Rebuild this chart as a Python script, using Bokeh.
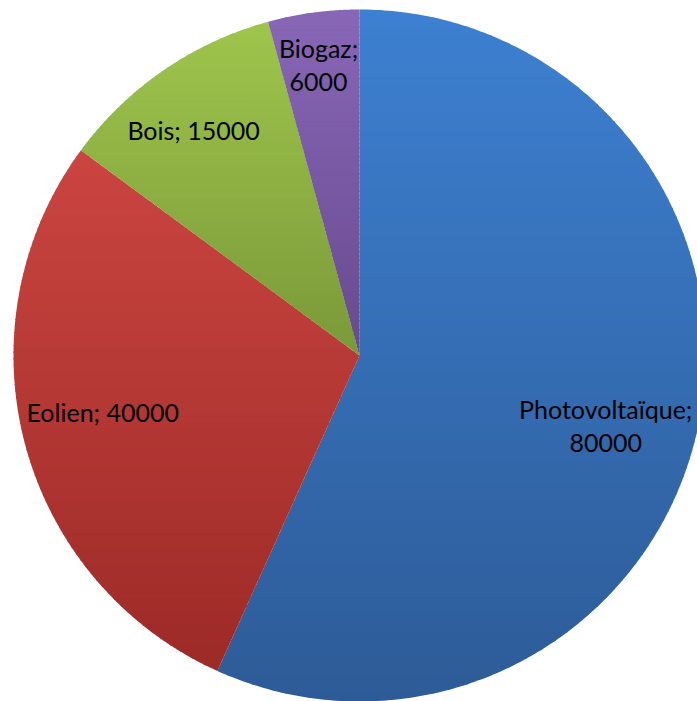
import numpy as np
from bokeh.plotting import figure
from bokeh.models import Range1d
from bokeh.core.properties import value
from bokeh.embed import file_html
from bokeh.resources import INLINE

# ---- data ----
categories = ["Photovoltaïque", "Eolien", "Bois", "Biogaz"]
values = [80000, 40000, 15000, 6000]
labels = ["Photovoltaïque;\n80000", "Eolien; 40000", "Bois; 15000", "Biogaz;\n6000"]

# ---- style ----
top_colors = ["#3D80D1", "#CB4541", "#9FC54C", "#8867B7"]
bottom_colors = ["#2D5B97", "#9C2A27", "#7A9939", "#684A8F"]
label_polar = [(105.9, 0.74), (257.5, 0.76), (323.7, 0.81), (352.0, 0.85)]  # (deg clockwise from top, radius fraction)

W, H = 697, 701
CX, CY, R = 359.0, H - 355.0, 346.0

p = figure(width=W, height=H, output_backend="svg", toolbar_location=None,
           x_range=Range1d(0, W), y_range=Range1d(0, H),
           x_axis_type=None, y_axis_type=None, min_border=0)
p.outline_line_color = None
p.grid.visible = False
p.background_fill_color = "white"
p.border_fill_color = "white"


def hex2rgb(h):
    h = h.lstrip("#")
    return np.array([int(h[i:i + 2], 16) for i in (0, 2, 4)], dtype=float)


def rgb2hex(c):
    return "#%02x%02x%02x" % tuple(int(round(v)) for v in c)


def clip(poly, y0, keep_above):
    out = []
    n = len(poly)
    for i in range(n):
        a, b = poly[i], poly[(i + 1) % n]
        ina = a[1] >= y0 if keep_above else a[1] <= y0
        inb = b[1] >= y0 if keep_above else b[1] <= y0
        if ina:
            out.append(a)
        if ina != inb:
            t = (y0 - a[1]) / (b[1] - a[1])
            out.append((a[0] + t * (b[0] - a[0]), y0))
    return out


total = float(sum(values))
fracs = np.array(values) / total
ends = np.cumsum(fracs) * 360.0
starts = ends - fracs * 360.0

xs_all, ys_all, cols = [], [], []
for i in range(len(values)):
    th = np.radians(np.linspace(starts[i], ends[i], 300))
    poly = [(CX, CY)] + [(CX + R * np.sin(t), CY + R * np.cos(t)) for t in th]
    ymin = min(q[1] for q in poly)
    ymax = max(q[1] for q in poly)
    c0, c1 = hex2rgb(top_colors[i]), hex2rgb(bottom_colors[i])
    nb = 80
    edges = np.linspace(ymax, ymin, nb + 1)
    for k in range(nb):
        hi, lo = edges[k], edges[k + 1]
        part = clip(clip(poly, lo - 0.6, True), hi + 0.6, False)
        if len(part) < 3:
            continue
        tt = (k + 0.5) / nb
        xs_all.append([q[0] for q in part])
        ys_all.append([q[1] for q in part])
        cols.append(rgb2hex(c0 + (c1 - c0) * tt))

p.patches(xs_all, ys_all, fill_color=cols, line_color=None)

lx, ly = [], []
for ang, f in label_polar:
    a = np.radians(ang)
    lx.append(CX + f * R * np.sin(a))
    ly.append(CY + f * R * np.cos(a))

p.text(x=lx, y=ly, text=labels, text_font=value("Lato"), text_font_size="25px",
       text_color="black", text_align="center", text_baseline="middle",
       text_line_height=1.1)

open("out.html", "w").write(file_html(p, INLINE))
